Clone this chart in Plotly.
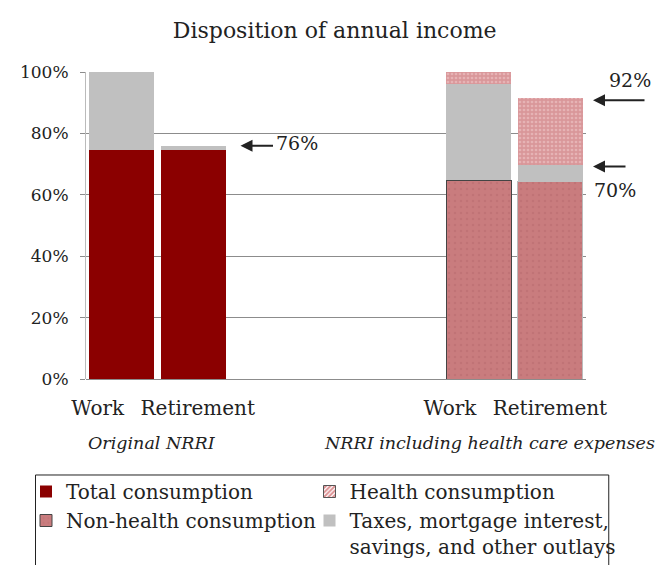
import plotly.graph_objects as go

# ---- data ----
orig_x = [0, 1]            # Original NRRI: Work, Retirement
health_x = [5, 6]          # NRRI incl. health care: Work, Retirement
all_x = [0, 1, 5, 6]

total_consumption = [74.6, 74.6]
non_health_consumption = [64.7, 64.2]
taxes_other = [25.4, 1.2, 31.5, 5.4]
health_consumption = [3.8, 22.0]

pair_tick_pos = [0.58, 5.51]
pair_tick_text = ["Work\u2002\u00a0Retirement", "Work\u2002\u00a0Retirement"]
y_ticks = [0, 20, 40, 60, 80, 100]
y_tick_text = ["0%", "20%", "40%", "60%", "80%", "100%"]

group_labels = ["Original NRRI", "NRRI including health care expenses"]
group_label_x = [0.131, 0.806]     # paper

FONT = "DejaVu Serif"
TXT = "#222222"

# The page body has an 8px margin, so the figure is sized to fit the window.
W, H = 660, 557

fig = go.Figure()

fig.add_trace(go.Bar(
    x=orig_x, y=total_consumption, name="Total consumption",
    marker=dict(color="#8B0000", line=dict(width=0)),
    legend="legend", legendrank=1,
))
fig.add_trace(go.Bar(
    x=health_x, y=non_health_consumption, name="Non-health consumption",
    marker=dict(color="#C97C7E", line=dict(color=["#444444", "#BBBBBB"], width=1),
                pattern=dict(shape=".", fgcolor="#B76A6D", size=6, solidity=0.15)),
    legend="legend", legendrank=2,
))
fig.add_trace(go.Bar(
    x=all_x, y=taxes_other, name="Taxes, mortgage interest,<br>savings, and other outlays",
    marker=dict(color="#C0C0C0", line=dict(width=0)),
    legend="legend2", legendrank=2,
))
fig.add_trace(go.Bar(
    x=health_x, y=health_consumption, name="Health consumption",
    marker=dict(color="#E0A1A3", line=dict(width=0),
                pattern=dict(shape=".", fgcolor="#F3D0D0", bgcolor="#D9979A", size=4, solidity=0.35)),
    showlegend=False,
))
# legend entry styled like the reference key (hatched)
fig.add_trace(go.Bar(
    x=[None], y=[None], name="Health consumption",
    marker=dict(color="white", line=dict(color="#555555", width=1),
                pattern=dict(shape="/", fgcolor="#B81E22", bgcolor="white", size=4, solidity=0.6)),
    legend="legend2", legendrank=1,
))

legend_common = dict(orientation="v", xref="paper", yref="container", yanchor="top",
                     xanchor="left", bgcolor="rgba(0,0,0,0)", borderwidth=0,
                     traceorder="normal", valign="top", tracegroupgap=0,
                     font=dict(size=20, family=FONT, color=TXT))

fig.update_layout(
    width=W, height=H,
    barmode="stack", bargap=0.09,
    plot_bgcolor="white", paper_bgcolor="white",
    margin=dict(l=73, r=82, t=64, b=186),
    font=dict(family=FONT, size=20, color=TXT),
    title=dict(text="Disposition of annual income", x=0.495, xanchor="center",
               y=1 - 22 / H, yanchor="middle", font=dict(size=22, family=FONT, color=TXT)),
    showlegend=True,
    legend=dict(x=-0.12, y=1 - 464 / H, **legend_common),
    legend2=dict(x=0.447, y=1 - 464 / H, **legend_common),
)

fig.update_xaxes(
    range=[-0.5, 6.5], tickmode="array", tickvals=pair_tick_pos, ticktext=pair_tick_text,
    showgrid=False, showline=False, ticks="", zeroline=False,
    tickfont=dict(size=20, family=FONT, color=TXT), ticklabelstandoff=15,
)
fig.update_yaxes(
    range=[0, 100], tickmode="array", tickvals=y_ticks, ticktext=y_tick_text,
    showgrid=True, gridcolor="#8C8C8C", gridwidth=1,
    showline=True, linecolor="#BBBBBB", linewidth=1,
    ticks="outside", ticklen=5, tickcolor="#8C8C8C",
    zeroline=True, zerolinecolor="#8C8C8C", zerolinewidth=1,
    tickfont=dict(size=17, family=FONT, color=TXT), ticklabelstandoff=8,
)

# key box
fig.add_shape(type="rect", xref="paper", yref="paper", x0=-0.101, x1=1.0455,
              y0=-0.75, y1=-0.3127, line=dict(color="#222222", width=1),
              fillcolor="rgba(0,0,0,0)", layer="above")

# group labels
for lbl, cx in zip(group_labels, group_label_x):
    fig.add_annotation(x=cx, xref="paper", y=-0.208, yref="paper", text=f"<i>{lbl}</i>",
                       showarrow=False, font=dict(size=17.5, family=FONT, color=TXT),
                       xanchor="center", yanchor="middle")

# arrows and labels
arrow_style = dict(showarrow=True, arrowhead=2, arrowsize=1.2, arrowwidth=2,
                   arrowcolor="#222222", text="", xref="paper", yref="y", axref="pixel", ayref="pixel")
lbl_font = dict(size=19, family=FONT, color=TXT)
fig.add_annotation(x=0.309, y=76, ax=34, ay=0, **arrow_style)
fig.add_annotation(x=0.376, y=76.8, xref="paper", yref="y", text="76%", showarrow=False,
                   xanchor="left", yanchor="middle", font=lbl_font)
fig.add_annotation(x=1.014, y=90.8, ax=53, ay=0, **arrow_style)
fig.add_annotation(x=1.087, y=97.4, xref="paper", yref="y", text="92%", showarrow=False,
                   xanchor="center", yanchor="middle", font=lbl_font)
fig.add_annotation(x=1.014, y=69.2, ax=34, ay=0, **arrow_style)
fig.add_annotation(x=1.057, y=61.6, xref="paper", yref="y", text="70%", showarrow=False,
                   xanchor="center", yanchor="middle", font=lbl_font)

fig.write_html("out.html")
